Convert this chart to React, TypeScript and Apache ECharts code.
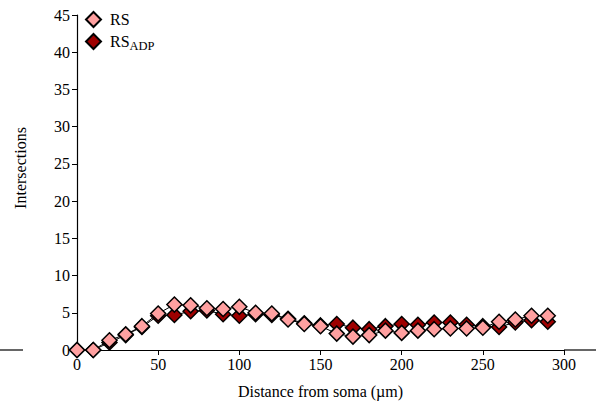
import React, { useEffect, useRef } from "react";
import * as echarts from "echarts";

const distances = [0, 10, 20, 30, 40, 50, 60, 70, 80, 90, 100, 110, 120, 130, 140, 150, 160, 170, 180, 190, 200, 210, 220, 230, 240, 250, 260, 270, 280, 290];
const rsValues = [0, 0, 1.3, 2.1, 3.2, 4.9, 6.1, 6.0, 5.6, 5.5, 5.8, 5.0, 4.9, 4.1, 3.5, 3.2, 2.2, 1.8, 2.0, 2.6, 2.3, 2.6, 2.8, 2.9, 2.9, 3.0, 3.8, 4.1, 4.6, 4.6];
const rsAdpValues = [0, 0, 1.0, 2.0, 3.1, 4.6, 4.7, 5.2, 5.3, 4.8, 4.6, 4.8, 4.7, 4.2, 3.6, 3.3, 3.5, 3.0, 2.8, 3.2, 3.5, 3.4, 3.7, 3.7, 3.4, 3.2, 3.1, 3.7, 4.0, 3.8];
const yTicks = { min: 0, max: 45, interval: 5 };
const xTicks = { min: 0, max: 300, interval: 50 };
const yTitle = "Intersections";
const xTitle = "Distance from soma (\u00b5m)";

const FONT = "'Liberation Serif', 'DejaVu Serif', serif";

export default function App() {
  const ref = useRef<HTMLDivElement>(null);
  useEffect(() => {
    if (!ref.current) return;
    const chart = echarts.init(ref.current, null, { renderer: "svg" });
    const mk = (arr: number[]) => distances.map((d, i) => [d, arr[i]]);
    chart.setOption({
      animation: false,
      grid: { left: 77, right: 32, top: 15, bottom: 60 },
      legend: {
        data: ["RS", "RS_ADP"],
        orient: "vertical",
        left: 80,
        top: 6,
        itemWidth: 15,
        itemHeight: 15,
        itemGap: 5,
        icon: "diamond",
        formatter: (name: string) => (name === "RS_ADP" ? "{a|RS}{b|ADP}" : "{a|RS}"),
        textStyle: {
          fontFamily: FONT,
          color: "#000",
          rich: {
            a: { fontFamily: FONT, fontSize: 16, color: "#000", padding: [0, 0, 0, 4] },
            b: { fontFamily: FONT, fontSize: 12.5, color: "#000", padding: [9, 0, 0, 0] },
          },
        },
      },
      xAxis: {
        type: "value",
        min: xTicks.min,
        max: xTicks.max,
        interval: xTicks.interval,
        name: xTitle,
        nameLocation: "middle",
        nameGap: 33,
        nameTextStyle: { fontFamily: FONT, fontSize: 16, color: "#000" },
        axisLine: { show: true, lineStyle: { color: "#000", width: 1.2 } },
        axisTick: { show: true, length: 5, lineStyle: { color: "#000" } },
        axisLabel: { fontFamily: FONT, fontSize: 16, color: "#000", margin: 6 },
        splitLine: { show: false },
      },
      yAxis: {
        type: "value",
        min: yTicks.min,
        max: yTicks.max,
        interval: yTicks.interval,
        axisLine: { show: true, lineStyle: { color: "#000", width: 1.2 } },
        axisTick: { show: true, length: 5, lineStyle: { color: "#000" } },
        axisLabel: { fontFamily: FONT, fontSize: 16, color: "#000", margin: 7 },
        splitLine: { show: false },
      },
      graphic: [
        { type: "line", shape: { x1: 0, y1: 350, x2: 23, y2: 350 }, style: { stroke: "#000", lineWidth: 1.2 } },
        { type: "line", shape: { x1: 564, y1: 350, x2: 596, y2: 350 }, style: { stroke: "#000", lineWidth: 1.2 } },
        {
          type: "text",
          x: 20,
          y: 168,
          rotation: Math.PI / 2,
          style: {
            text: yTitle,
            font: `16px ${FONT}`,
            fill: "#000",
            align: "center",
            verticalAlign: "middle",
          },
        },
      ],
      series: [
        {
          name: "RS_ADP",
          type: "line",
          data: mk(rsAdpValues),
          symbol: "diamond",
          symbolSize: 15,
          itemStyle: { color: "#9e0000", borderColor: "#000", borderWidth: 1.5 },
          lineStyle: { color: "#000", width: 1 },
          z: 2,
        },
        {
          name: "RS",
          type: "line",
          data: mk(rsValues),
          symbol: "diamond",
          symbolSize: 15,
          itemStyle: { color: "#ffa0a0", borderColor: "#000", borderWidth: 1.5 },
          lineStyle: { color: "#000", width: 1 },
          z: 3,
        },
      ],
    });
    return () => chart.dispose();
  }, []);
  return <div ref={ref} style={{ width: 596, height: 410, position: "absolute", left: 0, top: 0 }} />;
}
